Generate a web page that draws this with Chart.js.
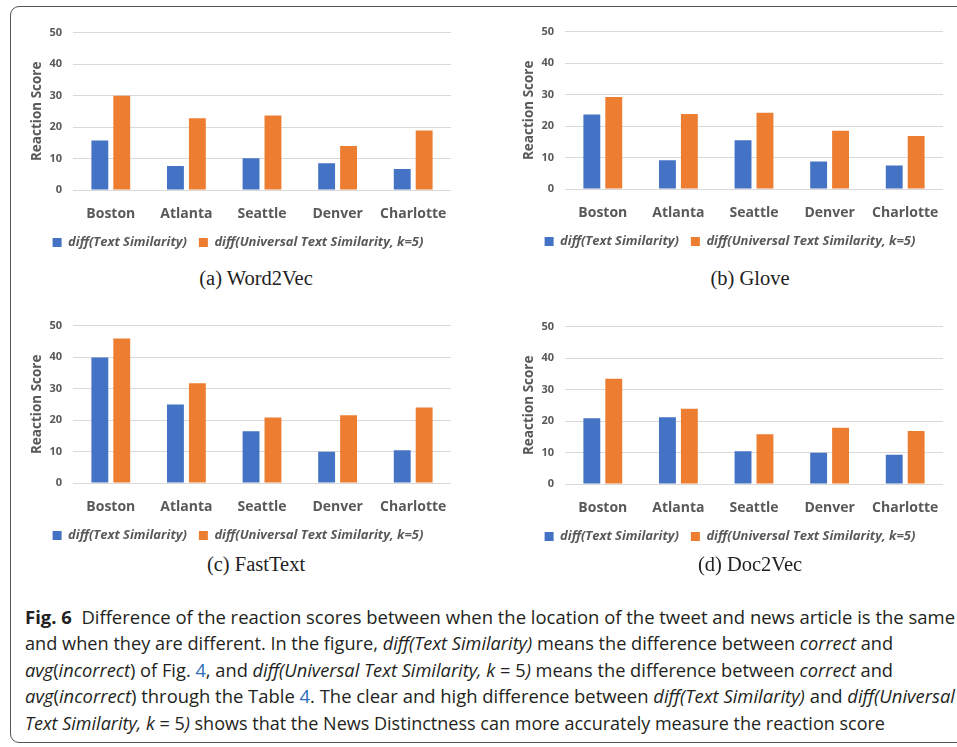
<!DOCTYPE html>
<html>
<head>
<meta charset="utf-8">
<script src="https://cdn.jsdelivr.net/npm/chart.js@4.4.1/dist/chart.umd.min.js"></script>
<style>
  body { margin: 0; background: #fff; width: 957px; height: 747px; overflow: hidden; position: relative; font-family: "Open Sans", sans-serif; }
  .frame { position: absolute; left: 10px; top: 6px; width: 975px; height: 735px; border: 1.5px solid #555; border-radius: 9px; }
  .panel { position: absolute; width: 460px; height: 245px; }
  .sub { position: absolute; font-family: "Liberation Serif", serif; font-size: 20.5px; color: #222; transform: translateX(-50%); white-space: nowrap; line-height: 22px; }
  .cap { position: absolute; left: 25px; font-size: 18px; line-height: 20px; color: #231f20; white-space: nowrap; transform-origin: 0 50%; }
  .cap b { font-weight: 700; }
  .cap .ref { color: #2a6ebb; }
</style>
</head>
<body>
<div class="frame"></div>

<div class="panel" style="left:10px;top:15px"><canvas id="w2v" width="460" height="245"></canvas></div>
<div class="panel" style="left:502px;top:14px"><canvas id="glove" width="460" height="245"></canvas></div>
<div class="panel" style="left:10px;top:308px"><canvas id="fasttext" width="460" height="245"></canvas></div>
<div class="panel" style="left:502px;top:309px"><canvas id="doc2vec" width="460" height="245"></canvas></div>

<div class="sub" style="left:256px;top:267px">(a) Word2Vec</div>
<div class="sub" style="left:750px;top:267px">(b) Glove</div>
<div class="sub" style="left:256px;top:553px">(c) FastText</div>
<div class="sub" style="left:750px;top:553px">(d) Doc2Vec</div>

<div class="cap" data-w="930" style="top:607px"><b>Fig. 6</b>&nbsp; Difference of the reaction scores between when the location of the tweet and news article is the same</div>
<div class="cap" data-w="868" style="top:633px">and when they are different. In the figure, <i>diff(Text Similarity)</i> means the difference between <i>correct</i> and</div>
<div class="cap" data-w="868" style="top:660px"><i>avg</i>(<i>incorrect</i>) of Fig. <span class="ref">4</span>, and <i>diff(Universal Text Similarity, k</i> = 5<i>)</i> means the difference between <i>correct</i> and</div>
<div class="cap" data-w="930" style="top:686px"><i>avg</i>(<i>incorrect</i>) through the Table <span class="ref">4</span>. The clear and high difference between <i>diff(Text Similarity)</i> and <i>diff(Universal</i></div>
<div class="cap" data-w="860" style="top:713px"><i>Text Similarity, k</i> = 5<i>)</i> shows that the News Distinctness can more accurately measure the reaction score</div>

<script>
const cities = ['Boston', 'Atlanta', 'Seattle', 'Denver', 'Charlotte'];
const seriesNames = ['diff(Text Similarity)', 'diff(Universal Text Similarity, k=5)'];
const yTicks = [0, 10, 20, 30, 40, 50];

const w2vText = [15.7, 7.6, 10.1, 8.5, 6.7];
const w2vUniversal = [29.9, 22.8, 23.7, 14.0, 18.9];

const gloveText = [23.7, 9.1, 15.5, 8.7, 7.5];
const gloveUniversal = [29.2, 23.8, 24.2, 18.5, 16.8];

const fastTextText = [39.9, 24.9, 16.4, 9.9, 10.4];
const fastTextUniversal = [45.9, 31.7, 20.8, 21.5, 24.0];

const doc2vecText = [20.9, 21.2, 10.4, 9.9, 9.3];
const doc2vecUniversal = [33.4, 23.9, 15.8, 17.9, 16.8];

const grey = '#595959';

function drawPanel(id, textVals, universalVals) {
  new Chart(document.getElementById(id), {
    type: 'bar',
    data: {
      labels: cities,
      datasets: [
        { label: seriesNames[0], data: textVals, backgroundColor: '#4472C4' },
        { label: seriesNames[1], data: universalVals, backgroundColor: '#ED7D31' }
      ]
    },
    options: {
      responsive: false,
      animation: false,
      layout: { padding: { left: 15, right: 19, top: 16, bottom: 1 } },
      datasets: { bar: { categoryPercentage: 0.58, barPercentage: 0.77 } },
      plugins: {
        legend: {
          position: 'bottom',
          labels: { boxWidth: 9, boxHeight: 9, color: grey, padding: 12,
            font: { family: 'Open Sans', size: 13, weight: 'bold', style: 'italic' } }
        },
        tooltip: { enabled: false }
      },
      scales: {
        x: {
          grid: { display: false },
          border: { display: false },
          ticks: { color: grey, padding: 8, font: { family: 'Open Sans', size: 14, weight: 'bold' } },
          afterFit: s => { s.height = 34; }
        },
        y: {
          min: yTicks[0],
          max: yTicks[yTicks.length - 1],
          afterBuildTicks: s => { s.ticks = yTicks.map(v => ({ value: v })); },
          grid: { color: '#D9D9D9', drawTicks: false },
          border: { display: false },
          ticks: { color: grey, padding: 11, font: { family: 'Open Sans', size: 11, weight: 'bold' } },
          title: { display: true, text: 'Reaction Score', color: grey,
            font: { family: 'Open Sans', size: 13.5, weight: 'bold' } },
          afterFit: s => { s.width = 48; }
        }
      }
    }
  });
}

drawPanel('w2v', w2vText, w2vUniversal);
drawPanel('glove', gloveText, gloveUniversal);
drawPanel('fasttext', fastTextText, fastTextUniversal);
drawPanel('doc2vec', doc2vecText, doc2vecUniversal);

// squeeze each caption line to the width it has in the printed figure
document.querySelectorAll('.cap').forEach(el => {
  const w = el.getBoundingClientRect().width;
  el.style.transform = 'scaleX(' + (el.dataset.w / w) + ')';
});
</script>
</body>
</html>
